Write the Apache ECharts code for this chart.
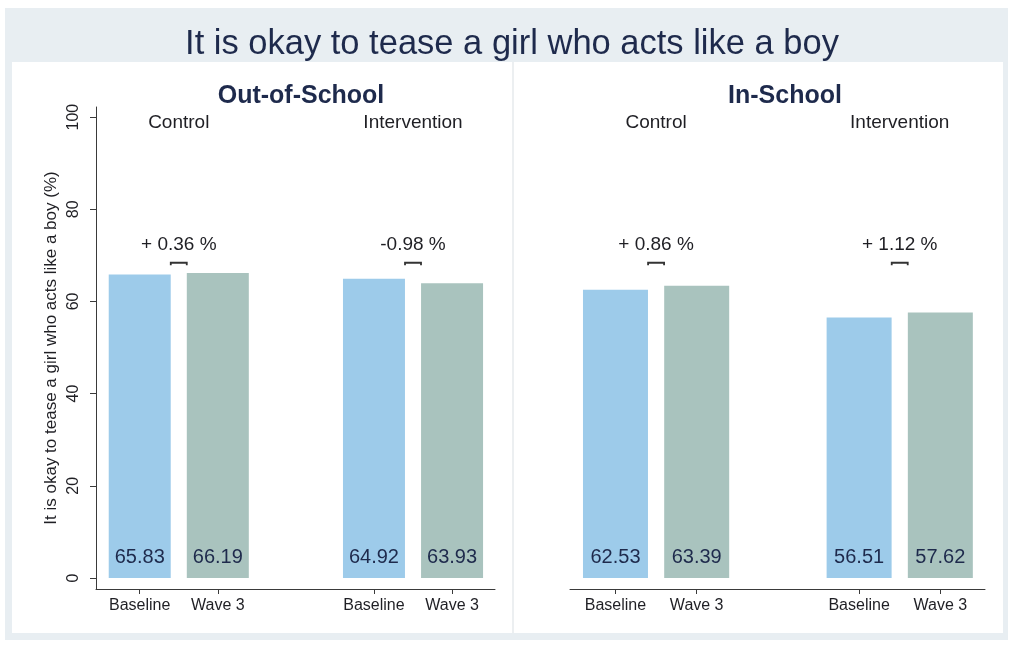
<!DOCTYPE html>
<html><head><meta charset="utf-8">
<script src="https://cdn.jsdelivr.net/npm/echarts@6/dist/echarts.min.js"></script>
<style>html,body{margin:0;padding:0;background:#ffffff}#c{width:1011px;height:647px}</style>
</head><body><div id="c"></div>
<script>
const chartTitle = 'It is okay to tease a girl who acts like a boy';
const panelTitles = ['Out-of-School', 'In-School'];
const groupNames = ['Control', 'Intervention'];
const waveNames = ['Baseline', 'Wave 3'];
const outSchoolBaseline = [65.83, 64.92];
const outSchoolWave3 = [66.19, 63.93];
const inSchoolBaseline = [62.53, 56.51];
const inSchoolWave3 = [63.39, 57.62];
const outSchoolChange = ['+ 0.36 %', '-0.98 %'];
const inSchoolChange = ['+ 0.86 %', '+ 1.12 %'];
const yTicks = [0, 20, 40, 60, 80, 100];
const yAxisName = 'It is okay to tease a girl who acts like a boy (%)';

const FONT = 'Liberation Sans, Arial, Helvetica, sans-serif';
const waveColors = ['#9dcbea', '#a9c3be'];
const navy = '#1e2a4c';
const textCol = '#1f1f24';

// x positions: baseline of group g at 1+3g, wave 3 at 2+3g
const barPos = (g, w) => 1 + 3 * g + w;
const xTickVals = [];
const xTickNames = {};
groupNames.forEach((_, g) => waveNames.forEach((wn, w) => { xTickVals.push(barPos(g, w)); xTickNames[barPos(g, w)] = wn; }));

const panels = [
  { base: outSchoolBaseline, wave: outSchoolWave3, change: outSchoolChange, grid: { left: 96, right: 516 }, barWidth: 62 },
  { base: inSchoolBaseline, wave: inSchoolWave3, change: inSchoolChange, grid: { left: 570, right: 26 }, barWidth: 65 }
];

const grids = [], xAxes = [], yAxes = [], series = [];
panels.forEach((p, i) => {
  grids.push({ left: p.grid.left, right: p.grid.right, top: 107, bottom: 58 });
  xAxes.push({
    type: 'value', gridIndex: i, min: 0.44, max: 5.55,
    splitLine: { show: false },
    axisLine: { show: true, onZero: false, lineStyle: { color: '#3a3a3a', width: 1 } },
    axisTick: { show: true, customValues: xTickVals, length: 5, lineStyle: { color: '#3a3a3a' } },
    axisLabel: { customValues: xTickVals, formatter: v => xTickNames[v] || '', fontSize: 16, color: textCol, fontFamily: FONT, margin: 9 }
  });
  yAxes.push({
    type: 'value', gridIndex: i, min: -2.4, max: 102.2,
    splitLine: { show: false },
    axisLine: { show: i === 0, lineStyle: { color: '#3a3a3a', width: 1 } },
    axisTick: { show: i === 0, customValues: yTicks, length: 6, lineStyle: { color: '#3a3a3a' } },
    axisLabel: { show: i === 0, customValues: yTicks, rotate: 90, fontSize: 16, color: textCol, fontFamily: FONT, margin: 14 },
    name: i === 0 ? yAxisName : '', nameLocation: 'middle', nameRotate: 90, nameGap: 36,
    nameTextStyle: { fontSize: 17, color: textCol, fontFamily: FONT }
  });
  const data = [];
  groupNames.forEach((_, g) => {
    data.push({ value: [barPos(g, 0), p.base[g]], itemStyle: { color: waveColors[0] } });
    data.push({ value: [barPos(g, 1), p.wave[g]], itemStyle: { color: waveColors[1] } });
  });
  series.push({
    type: 'bar', xAxisIndex: i, yAxisIndex: i, barWidth: p.barWidth, data,
    label: { show: true, position: 'insideBottom', distance: 10, formatter: d => d.value[1].toFixed(2), fontSize: 20, color: navy, fontFamily: FONT }
  });
  series.push({
    type: 'custom', xAxisIndex: i, yAxisIndex: i, clip: false,
    data: groupNames.map((_, g) => [barPos(g, 0) + 0.5, g]),
    encode: { x: 0, y: 1 },
    renderItem: (params, api) => {
      const g = api.value(1);
      const x = api.value(0);
      const pName = api.coord([x, 98.8]);
      const pText = api.coord([x, 72.4]);
      const pBr = api.coord([x, 68.4]);
      return { type: 'group', children: [
        { type: 'text', style: { text: groupNames[g], x: pName[0], y: pName[1], align: 'center', verticalAlign: 'middle', font: '19px ' + FONT, fill: textCol } },
        { type: 'text', style: { text: p.change[g], x: pText[0], y: pText[1], align: 'center', verticalAlign: 'middle', font: '19px ' + FONT, fill: textCol } },
        { type: 'polyline', shape: { points: [[pBr[0] - 8, pBr[1] + 2.5], [pBr[0] - 8, pBr[1]], [pBr[0] + 8, pBr[1]], [pBr[0] + 8, pBr[1] + 2.5]] }, style: { stroke: '#333', lineWidth: 1.8, fill: null } }
      ] };
    }
  });
});

const chart = echarts.init(document.getElementById('c'), null, { renderer: 'canvas' });
chart.setOption({
  backgroundColor: '#ffffff',
  animation: false,
  graphic: [
    { type: 'rect', z: -10, shape: { x: 5, y: 8, width: 1003, height: 632 }, style: { fill: '#e8eef2' } },
    { type: 'rect', z: -9, shape: { x: 12, y: 62, width: 991, height: 571 }, style: { fill: '#ffffff' } },
    { type: 'line', z: -8, shape: { x1: 513, y1: 62, x2: 513, y2: 633 }, style: { stroke: '#e6eaec', lineWidth: 1.5 } }
  ],
  title: [
    { text: chartTitle, left: 507, textAlign: 'center', top: 22, textStyle: { fontSize: 34.5, fontWeight: 'normal', color: navy, fontFamily: FONT } },
    { text: panelTitles[0], left: 296, textAlign: 'center', top: 79, textStyle: { fontSize: 25, fontWeight: 'bold', color: navy, fontFamily: FONT } },
    { text: panelTitles[1], left: 780, textAlign: 'center', top: 79, textStyle: { fontSize: 25, fontWeight: 'bold', color: navy, fontFamily: FONT } }
  ],
  grid: grids, xAxis: xAxes, yAxis: yAxes, series
});
</script></body></html>
